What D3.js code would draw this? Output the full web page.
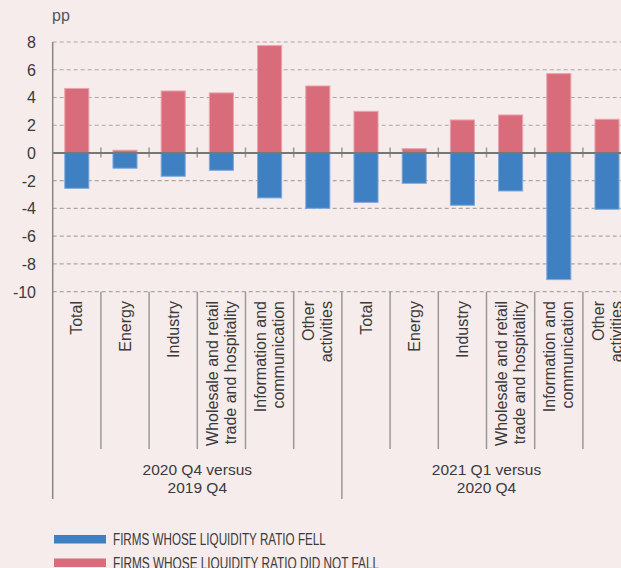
<!DOCTYPE html>
<html>
<head>
<meta charset="utf-8">
<script src="https://cdn.jsdelivr.net/npm/d3@7"></script>
<style>
  html, body { margin: 0; padding: 0; background: #f7ecec; }
  svg { display: block; font-family: "Liberation Sans", Arial, Helvetica, sans-serif; }
</style>
</head>
<body>
<div id="chart"></div>
<script>
// chart data
var categories = ["Total", "Energy", "Industry", "Wholesale and retail\ntrade and hospitality", "Information and\ncommunication", "Other\nactivities"];
var groups = ["2020 Q4 versus\n2019 Q4", "2021 Q1 versus\n2020 Q4"];
var fell2020 = [-2.55, -1.1, -1.68, -1.25, -3.24, -3.99];
var notFell2020 = [4.65, 0.2, 4.47, 4.33, 7.74, 4.83];
var fell2021 = [-3.56, -2.19, -3.77, -2.74, -9.13, -4.06];
var notFell2021 = [3.0, 0.31, 2.38, 2.74, 5.72, 2.43];
var yTicks = [8, 6, 4, 2, 0, -2, -4, -6, -8, -10];
var legendLabels = ["FIRMS WHOSE LIQUIDITY RATIO FELL", "FIRMS WHOSE LIQUIDITY RATIO DID NOT FALL"];

var width = 621;
var height = 568;
var left = 52.7;
var step = 48.2;
var red = "#d96c7a";
var blue = "#3f80c2";
var textCol = "#3a3a3a";

// build rows from the arrays
var rows = [];
[[fell2020, notFell2020], [fell2021, notFell2021]].forEach(function(g, gi) {
    categories.forEach(function(c, ci) {
        rows.push({key: gi + "-" + ci, group: gi, label: c, fell: g[0][ci], notFell: g[1][ci]});
    });
});

var svg = d3.select("#chart")
    .append("svg")
    .attr("width", width)
    .attr("height", height);

var x = d3.scaleBand()
    .domain(rows.map(d => d.key))
    .range([left, left + rows.length * step])
    .paddingInner(0.5)
    .paddingOuter(0.25);

var y = d3.scaleLinear()
    .domain([-10, 8])
    .range([291.7, 42]);

// dashed grid lines
svg.selectAll(".grid")
    .data(yTicks.filter(t => t !== 0))
    .enter()
    .append("line")
    .attr("x1", left)
    .attr("x2", width)
    .attr("y1", d => y(d))
    .attr("y2", d => y(d))
    .attr("stroke", "#a9a6a6")
    .attr("stroke-width", 1.2)
    .attr("stroke-dasharray", "4,3");

// tick labels
svg.selectAll(".ytick")
    .data(yTicks)
    .enter()
    .append("text")
    .attr("x", 36)
    .attr("y", d => y(d) + 6)
    .attr("text-anchor", "end")
    .style("font-size", "16px")
    .style("fill", textCol)
    .text(d => d);

svg.append("text")
    .attr("x", 52)
    .attr("y", 21)
    .style("font-size", "16px")
    .style("fill", "#555")
    .text("pp");

// bars: positive part then negative part
svg.selectAll(".barUp")
    .data(rows)
    .enter()
    .append("rect")
    .attr("x", d => x(d.key))
    .attr("width", x.bandwidth())
    .attr("y", d => y(d.notFell))
    .attr("height", d => y(0) - y(d.notFell))
    .attr("fill", red)
    .attr("stroke", "#eaa3ad")
    .attr("stroke-width", 1);

svg.selectAll(".barDown")
    .data(rows)
    .enter()
    .append("rect")
    .attr("x", d => x(d.key))
    .attr("width", x.bandwidth())
    .attr("y", y(0))
    .attr("height", d => y(d.fell) - y(0))
    .attr("fill", blue)
    .attr("stroke", "#80aadb")
    .attr("stroke-width", 1);

// band boundaries
var bounds = d3.range(1, rows.length + 1).map(i => left + i * step);

// zero line with small ticks
svg.selectAll(".zeroTick")
    .data(bounds)
    .enter()
    .append("line")
    .attr("x1", d => d)
    .attr("x2", d => d)
    .attr("y1", y(0) - 5.5)
    .attr("y2", y(0) + 4.5)
    .attr("stroke", "#9a9a9a")
    .attr("stroke-width", 1.5);

svg.append("line")
    .attr("x1", left)
    .attr("x2", width)
    .attr("y1", y(0))
    .attr("y2", y(0))
    .attr("stroke", "#777")
    .attr("stroke-width", 2);

// separators under the plot
svg.selectAll(".sep")
    .data(bounds)
    .enter()
    .append("line")
    .attr("x1", d => d)
    .attr("x2", d => d)
    .attr("y1", y(-10))
    .attr("y2", (d, i) => (i + 1) % categories.length === 0 ? 499 : 449)
    .attr("stroke", "#9a9a9a")
    .attr("stroke-width", 1.5);

// y axis line
svg.append("line")
    .attr("x1", left)
    .attr("x2", left)
    .attr("y1", y(8))
    .attr("y2", 499)
    .attr("stroke", "#888")
    .attr("stroke-width", 1.5);

// rotated category labels
var lineGap = 18;
svg.selectAll(".catLabel")
    .data(rows)
    .enter()
    .append("text")
    .attr("transform", function(d) {
        var cx = x(d.key) + x.bandwidth() / 2;
        return "translate(" + cx + ",301) rotate(-90)";
    })
    .attr("text-anchor", "end")
    .style("font-size", "16px")
    .style("fill", textCol)
    .each(function(d) {
        var lines = d.label.split("\n");
        var t = d3.select(this);
        lines.forEach(function(l, i) {
            t.append("tspan")
                .attr("x", 0)
                .attr("y", (i - (lines.length - 1) / 2) * lineGap + 5.5)
                .text(l);
        });
    });

// group labels
svg.selectAll(".groupLabel")
    .data(groups)
    .enter()
    .append("text")
    .attr("text-anchor", "middle")
    .style("font-size", "15.5px")
    .style("fill", textCol)
    .each(function(d, gi) {
        var t = d3.select(this);
        var cx = left + (gi * categories.length + categories.length / 2) * step;
        d.split("\n").forEach(function(l, i) {
            t.append("tspan")
                .attr("x", cx)
                .attr("y", 475 + i * 17.5)
                .text(l);
        });
    });

// legend (condensed type in the original, squeezed to fit)
var legend = svg.selectAll(".legend")
    .data(legendLabels)
    .enter()
    .append("g")
    .attr("transform", (d, i) => "translate(54," + (535 + i * 23.5) + ")");

legend.append("rect")
    .attr("width", 52)
    .attr("height", 8.5)
    .attr("fill", (d, i) => i === 0 ? blue : red);

legend.append("text")
    .attr("x", 59)
    .attr("y", 10)
    .attr("textLength", d => d.length * 6.65)
    .attr("lengthAdjust", "spacingAndGlyphs")
    .style("font-size", "16px")
    .style("fill", textCol)
    .text(d => d);
</script>
</body>
</html>
